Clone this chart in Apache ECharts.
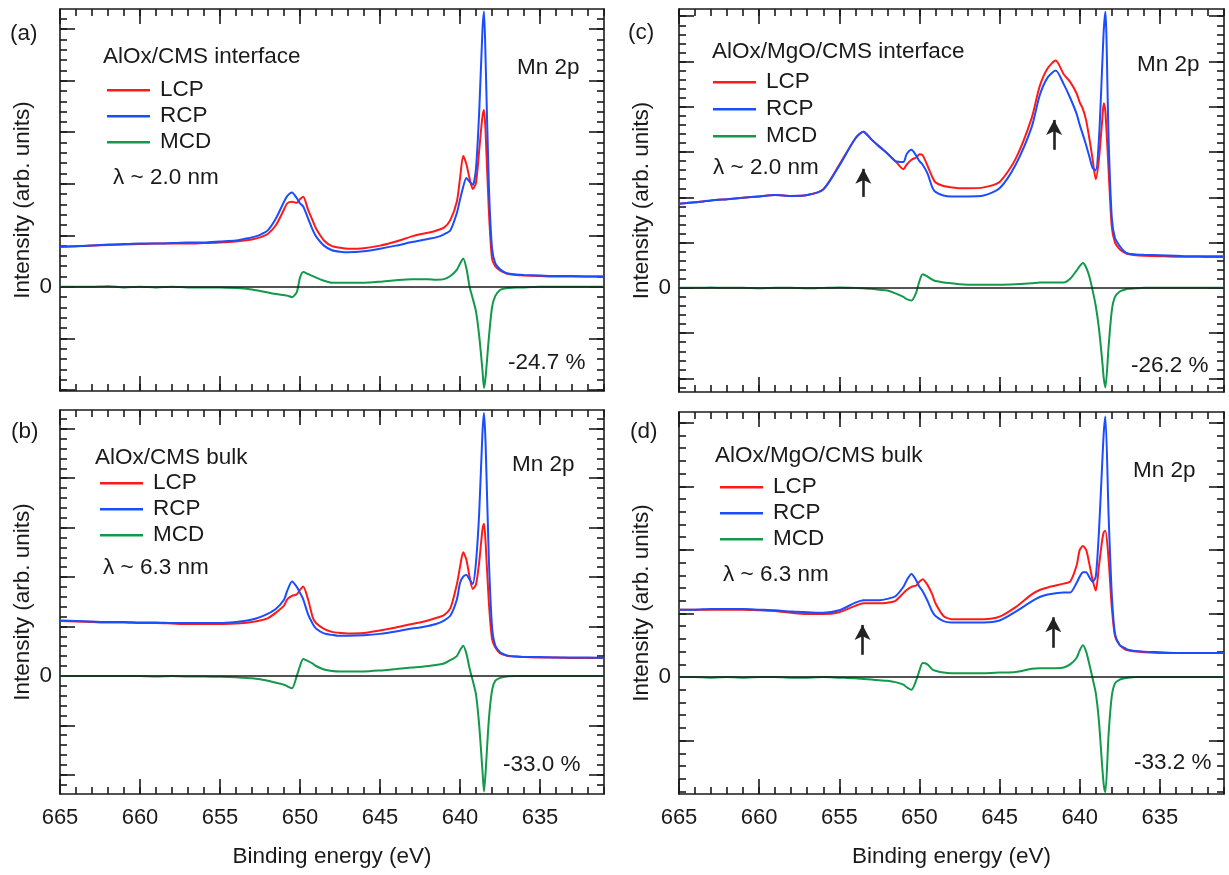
<!DOCTYPE html>
<html>
<head>
<meta charset="utf-8">
<script src="https://cdn.jsdelivr.net/npm/echarts@6/dist/echarts.min.js"></script>
<style>
  html, body { margin: 0; padding: 0; background: #ffffff; }
  #chart { width: 1229px; height: 875px; }
</style>
</head>
<body>
<div id="chart"></div>
<script>
// Binding energy grid (eV), shared by all four spectra
const energy = [665,664,663,662,661,660,659,658,657,656,655,654,
  653.5,653,652.5,652,651.5,651,650.8,650.5,650.2,650,
  649.8,649.5,649.2,649,648.5,648,647.5,647,646,645,644,643,
  642.5,642,641.5,641,640.6,640.2,640,
  639.8,639.6,639.4,639.2,639,638.8,638.6,638.5,638.4,638.2,638,
  637.8,637.5,637.2,637,636.5,636,635,634,633,632,631];

// (a) AlOx/CMS interface
const lcpA = [0.78,0.79,0.80,0.81,0.82,0.83,0.84,0.84,0.84,0.85,0.86,0.88,
  0.90,0.92,0.96,1.03,1.20,1.50,1.62,1.65,1.63,1.70,
  1.75,1.50,1.28,1.13,0.90,0.79,0.76,0.74,0.75,0.80,0.88,0.98,
  1.02,1.05,1.09,1.15,1.30,1.65,2.10,
  2.54,2.38,2.10,1.90,2.02,2.65,3.30,3.43,3.00,1.50,0.55,
  0.40,0.32,0.27,0.25,0.23,0.22,0.21,0.20,0.20,0.20,0.20];
const rcpA = [0.78,0.79,0.80,0.82,0.83,0.84,0.84,0.85,0.86,0.86,0.88,0.90,
  0.93,0.96,1.01,1.10,1.33,1.65,1.76,1.83,1.72,1.62,
  1.56,1.33,1.10,0.98,0.80,0.71,0.68,0.67,0.69,0.74,0.80,0.87,
  0.90,0.93,0.96,1.02,1.10,1.43,1.69,
  1.94,2.11,2.04,1.98,2.30,3.40,4.95,5.34,4.40,2.00,0.75,
  0.46,0.34,0.28,0.26,0.24,0.23,0.22,0.21,0.21,0.20,0.20];
const mcdA = [0,0,0,0.01,-0.01,0,-0.01,0,-0.01,-0.01,-0.01,-0.02,
  -0.03,-0.05,-0.08,-0.11,-0.14,-0.16,-0.17,-0.20,-0.10,0.18,
  0.29,0.25,0.21,0.18,0.12,0.08,0.08,0.08,0.08,0.10,0.13,0.15,
  0.15,0.15,0.14,0.15,0.21,0.33,0.45,
  0.55,0.36,0.00,-0.23,-0.48,-0.95,-1.60,-1.96,-1.75,-1.00,-0.40,
  -0.18,-0.06,-0.03,-0.02,-0.01,-0.01,0,0,0,0,0];

// (b) AlOx/CMS bulk
const lcpB = [1.11,1.10,1.09,1.08,1.08,1.07,1.07,1.06,1.05,1.05,1.05,1.06,
  1.07,1.09,1.12,1.17,1.28,1.42,1.55,1.62,1.65,1.74,
  1.81,1.55,1.18,1.07,0.95,0.89,0.87,0.86,0.87,0.92,0.98,1.05,
  1.08,1.12,1.17,1.23,1.37,1.85,2.20,
  2.50,2.35,2.00,1.76,1.85,2.30,2.95,3.08,2.70,1.50,0.75,
  0.58,0.46,0.42,0.40,0.39,0.38,0.37,0.37,0.36,0.36,0.36];
const rcpB = [1.12,1.11,1.10,1.09,1.09,1.08,1.08,1.07,1.07,1.07,1.07,1.09,
  1.11,1.14,1.19,1.26,1.36,1.54,1.72,1.91,1.80,1.68,
  1.55,1.25,1.05,0.96,0.86,0.83,0.81,0.81,0.82,0.85,0.90,0.96,
  0.98,1.01,1.05,1.12,1.22,1.54,1.88,
  2.01,2.04,1.95,1.86,2.30,3.30,4.90,5.32,4.70,2.40,1.00,
  0.62,0.48,0.43,0.41,0.39,0.38,0.38,0.37,0.37,0.37,0.36];
const mcdB = [0,0,0,0,0,0,-0.01,0,-0.01,-0.01,-0.02,-0.03,
  -0.04,-0.05,-0.07,-0.10,-0.14,-0.18,-0.21,-0.25,0.00,0.20,
  0.34,0.30,0.25,0.20,0.13,0.10,0.09,0.09,0.09,0.11,0.14,0.17,
  0.18,0.20,0.22,0.25,0.32,0.40,0.52,
  0.61,0.45,0.15,-0.10,-0.38,-1.00,-1.90,-2.34,-1.95,-0.90,-0.30,
  -0.10,-0.04,-0.02,-0.01,0,0,0,0,0,0,0];

// (c) AlOx/MgO/CMS interface
const lcpC = [1.86,1.89,1.93,1.96,1.99,2.02,2.05,2.03,2.05,2.18,2.72,3.30,
  3.45,3.28,3.12,2.97,2.80,2.62,2.72,2.83,2.88,2.95,
  2.93,2.70,2.45,2.33,2.25,2.22,2.20,2.20,2.22,2.34,2.85,3.75,
  4.45,4.85,5.02,4.72,4.55,4.30,4.10,
  3.95,3.70,3.30,2.85,2.40,2.85,3.70,4.08,3.90,2.60,1.35,
  1.00,0.85,0.78,0.75,0.72,0.71,0.70,0.69,0.69,0.68,0.68];
const rcpC = [1.86,1.89,1.93,1.96,1.99,2.02,2.05,2.03,2.05,2.17,2.70,3.30,
  3.45,3.28,3.12,2.97,2.80,2.78,2.95,3.05,2.92,2.80,
  2.72,2.53,2.22,2.12,2.04,2.02,2.02,2.02,2.04,2.20,2.72,3.55,
  4.25,4.65,4.80,4.50,4.20,3.85,3.60,
  3.38,3.15,2.90,2.65,2.60,3.30,4.89,5.70,6.10,3.30,1.55,
  1.10,0.92,0.80,0.76,0.74,0.73,0.72,0.71,0.70,0.70,0.70];
const mcdC = [0,0,0.01,0,0,-0.01,0,0,-0.01,0,0.01,0,
  -0.01,-0.02,-0.04,-0.06,-0.12,-0.20,-0.25,-0.28,-0.10,0.15,
  0.30,0.25,0.18,0.15,0.12,0.10,0.08,0.07,0.07,0.07,0.08,0.10,
  0.12,0.12,0.12,0.12,0.20,0.38,0.48,
  0.55,0.45,0.25,-0.05,-0.40,-0.90,-1.60,-2.00,-2.20,-1.30,-0.50,
  -0.20,-0.08,-0.04,-0.02,-0.01,0,0,0,0,0,0];

// (d) AlOx/MgO/CMS bulk
const lcpD = [1.06,1.06,1.06,1.06,1.06,1.05,1.04,1.01,0.99,0.99,1.02,1.12,
  1.16,1.16,1.16,1.17,1.20,1.32,1.37,1.42,1.44,1.50,
  1.54,1.45,1.30,1.16,0.96,0.91,0.91,0.91,0.91,0.95,1.10,1.30,
  1.37,1.41,1.44,1.47,1.50,1.75,2.00,
  2.06,2.00,1.78,1.53,1.36,1.75,2.15,2.28,2.30,1.85,1.10,
  0.65,0.50,0.44,0.42,0.40,0.39,0.38,0.38,0.38,0.38,0.38];
const rcpD = [1.06,1.06,1.07,1.07,1.07,1.06,1.05,1.03,1.02,1.01,1.05,1.17,
  1.21,1.21,1.21,1.23,1.27,1.42,1.52,1.62,1.52,1.42,
  1.35,1.20,1.03,0.96,0.88,0.86,0.86,0.86,0.86,0.89,1.03,1.19,
  1.26,1.30,1.32,1.33,1.33,1.48,1.58,
  1.65,1.65,1.57,1.50,1.58,2.30,3.35,3.85,4.10,2.55,1.30,
  0.68,0.50,0.46,0.43,0.41,0.40,0.39,0.38,0.38,0.38,0.38];
const mcdD = [0,0,-0.01,0,-0.01,0,0,-0.01,-0.01,0,-0.01,-0.02,
  -0.03,-0.04,-0.05,-0.06,-0.08,-0.12,-0.16,-0.20,-0.05,0.10,
  0.22,0.20,0.12,0.10,0.07,0.06,0.06,0.06,0.06,0.07,0.08,0.13,
  0.14,0.14,0.14,0.15,0.20,0.30,0.42,
  0.50,0.40,0.20,-0.02,-0.25,-0.70,-1.40,-1.70,-1.81,-0.90,-0.30,
  -0.10,-0.04,-0.02,-0.01,0,0,0,0,0,0,0];

// Tick labels on the energy axis
const energyTicks = [635,640,645,650,655,660,665];

// Arrows marking the satellite features, [energy, from, to]
const arrowsC = [[653.5, 2.01, 2.63], [641.6, 3.05, 3.71]];
const arrowsD = [[653.55, 0.35, 0.82], [641.65, 0.46, 0.94]];

const ink = '#1a1a1a';
const font = '"Liberation Sans", Arial, sans-serif';
const textSize = 22.5;
const colors = { LCP: '#ff1a1a', RCP: '#1a4dff', MCD: '#13994a' };
const E_MIN = 631, E_MAX = 665;

const panels = [
  { grid: { left: 60, top: 9, width: 544, height: 382 }, yMin: -2.02, yMax: 5.39,
    lcp: lcpA, rcp: rcpA, mcd: mcdA, bottom: false, arrows: [],
    tag: '(a)', tagPos: [10, 34], sample: 'AlOx/CMS interface', samplePos: [103, 57],
    legendPos: [107, 90], legendStep: 25.5, depth: 'λ ~ 2.0 nm', depthPos: [113, 178],
    edge: 'Mn 2p', edgePos: [517, 68], ratio: '-24.7 %', ratioPos: [508, 363] },
  { grid: { left: 60, top: 410, width: 544, height: 384 }, yMin: -2.39, yMax: 5.38,
    lcp: lcpB, rcp: rcpB, mcd: mcdB, bottom: true, arrows: [],
    tag: '(b)', tagPos: [11, 432], sample: 'AlOx/CMS bulk', samplePos: [95, 458],
    legendPos: [100, 483], legendStep: 25.5, depth: 'λ ~ 6.3 nm', depthPos: [103, 568],
    edge: 'Mn 2p', edgePos: [512, 465], ratio: '-33.0 %', ratioPos: [503, 765] },
  { grid: { left: 679, top: 9, width: 545, height: 383 }, yMin: -2.30, yMax: 6.16,
    lcp: lcpC, rcp: rcpC, mcd: mcdC, bottom: false, arrows: arrowsC,
    tag: '(c)', tagPos: [628, 33], sample: 'AlOx/MgO/CMS interface', samplePos: [712, 52],
    legendPos: [713, 82], legendStep: 26.5, depth: 'λ ~ 2.0 nm', depthPos: [713, 168],
    edge: 'Mn 2p', edgePos: [1137, 65], ratio: '-26.2 %', ratioPos: [1131, 366] },
  { grid: { left: 679, top: 412, width: 545, height: 382 }, yMin: -1.84, yMax: 4.17,
    lcp: lcpD, rcp: rcpD, mcd: mcdD, bottom: true, arrows: arrowsD,
    tag: '(d)', tagPos: [630, 432], sample: 'AlOx/MgO/CMS bulk', samplePos: [715, 456],
    legendPos: [720, 487], legendStep: 25.5, depth: 'λ ~ 6.3 nm', depthPos: [723, 575],
    edge: 'Mn 2p', edgePos: [1133, 471], ratio: '-33.2 %', ratioPos: [1134, 763] }
];

const frame = { color: ink, width: 1.6 };
const minorEnergy = [];
for (let e = E_MIN; e <= E_MAX; e++) minorEnergy.push(e);

function stepValues(min, max, step) {
  const out = [];
  const n0 = Math.ceil(min / step - 1e-9), n1 = Math.floor(max / step + 1e-9);
  for (let n = n0; n <= n1; n++) out.push(+(n * step).toFixed(4));
  return out;
}

function xAxesFor(gi, p) {
  const base = { type: 'value', gridIndex: gi, min: E_MIN, max: E_MAX, inverse: true,
    splitLine: { show: false } };
  const major = { show: true, inside: true, length: 15, lineStyle: frame, customValues: energyTicks };
  const minor = { show: true, inside: true, length: 7, lineStyle: frame, customValues: minorEnergy };
  return [
    Object.assign({}, base, {
      position: 'bottom', axisLine: { show: true, onZero: false, lineStyle: frame },
      axisTick: major,
      axisLabel: { show: p.bottom, customValues: energyTicks, margin: 13, fontSize: 22,
        color: ink, fontFamily: font },
      name: p.bottom ? 'Binding energy (eV)' : '', nameLocation: 'middle', nameGap: 51,
      nameTextStyle: { fontSize: textSize, color: ink, fontFamily: font }
    }),
    Object.assign({}, base, { position: 'bottom', axisLine: { show: false, onZero: false },
      axisTick: minor, axisLabel: { show: false } }),
    Object.assign({}, base, { position: 'top', axisLine: { show: true, onZero: false, lineStyle: frame },
      axisTick: major, axisLabel: { show: false } }),
    Object.assign({}, base, { position: 'top', axisLine: { show: false, onZero: false },
      axisTick: minor, axisLabel: { show: false } })
  ];
}

function yAxesFor(gi, p) {
  const base = { type: 'value', gridIndex: gi, min: p.yMin, max: p.yMax, splitLine: { show: false } };
  const majorVals = stepValues(p.yMin, p.yMax, 1);
  const minorVals = stepValues(p.yMin, p.yMax, 0.2);
  const major = { show: true, inside: true, length: 15, lineStyle: frame, customValues: majorVals };
  const minor = { show: true, inside: true, length: 7, lineStyle: frame, customValues: minorVals };
  return [
    Object.assign({}, base, {
      position: 'left', axisLine: { show: true, onZero: false, lineStyle: frame },
      axisTick: major,
      axisLabel: { show: true, customValues: [0], formatter: '{value}', margin: 8, fontSize: textSize,
        color: ink, fontFamily: font },
      name: 'Intensity (arb. units)', nameLocation: 'middle', nameRotate: 90, nameGap: 26,
      nameTextStyle: { fontSize: textSize, color: ink, fontFamily: font }
    }),
    Object.assign({}, base, { position: 'left', axisLine: { show: false, onZero: false },
      axisTick: minor, axisLabel: { show: false } }),
    Object.assign({}, base, { position: 'right', axisLine: { show: true, onZero: false, lineStyle: frame },
      axisTick: major, axisLabel: { show: false } }),
    Object.assign({}, base, { position: 'right', axisLine: { show: false, onZero: false },
      axisTick: minor, axisLabel: { show: false } })
  ];
}

function pairs(values) {
  return energy.map((e, i) => [e, values[i]]);
}

const grids = [], xAxes = [], yAxes = [], series = [], titles = [], legends = [];

panels.forEach((p, gi) => {
  grids.push(Object.assign({ containLabel: false }, p.grid));
  xAxes.push(...xAxesFor(gi, p));
  yAxes.push(...yAxesFor(gi, p));

  const axisIdx = { xAxisIndex: 4 * gi, yAxisIndex: 4 * gi };
  const lineOf = (name, values, extra) => Object.assign({
    type: 'line', name: name, data: pairs(values), showSymbol: false, symbol: 'none',
    smooth: 0.25,
    lineStyle: { color: colors[name], width: 2 }, itemStyle: { color: colors[name] },
    animation: false, silent: true
  }, axisIdx, extra || {});

  const lcpExtra = p.arrows.length ? {
    markLine: {
      silent: true, animation: false, symbol: ['none', 'arrow'], symbolSize: [12, 15],
      label: { show: false }, lineStyle: { color: '#222', width: 2.6, type: 'solid' },
      data: p.arrows.map(a => [{ coord: [a[0], a[1]] }, { coord: [a[0], a[2]] }])
    }
  } : {};

  series.push(lineOf('MCD', p.mcd, {
    z: 2,
    markLine: {
      silent: true, animation: false, symbol: ['none', 'none'], label: { show: false },
      lineStyle: { color: ink, width: 1.5, type: 'solid' }, data: [{ yAxis: 0 }]
    }
  }));
  series.push(lineOf('LCP', p.lcp, Object.assign({ z: 3 }, lcpExtra)));
  series.push(lineOf('RCP', p.rcp, { z: 4 }));

  const txt = (text, pos) => ({
    text: text, left: pos[0], top: pos[1] - textSize / 2, padding: 0,
    textStyle: { fontSize: textSize, lineHeight: textSize, fontWeight: 'normal', color: ink, fontFamily: font }
  });
  titles.push(txt(p.tag, p.tagPos), txt(p.sample, p.samplePos), txt(p.depth, p.depthPos),
    txt(p.edge, p.edgePos), txt(p.ratio, p.ratioPos));

  legends.push({
    left: p.legendPos[0], top: p.legendPos[1] - textSize / 2, orient: 'vertical', padding: 0,
    itemGap: p.legendStep - textSize, itemWidth: 43, itemHeight: 2.5, icon: 'rect',
    selectedMode: false, data: ['LCP', 'RCP', 'MCD'],
    textStyle: { fontSize: textSize, lineHeight: textSize, color: ink, fontFamily: font, padding: [0, 0, 0, 5] }
  });
});

const chart = echarts.init(document.getElementById('chart'), null, { renderer: 'canvas' });
chart.setOption({
  backgroundColor: '#ffffff',
  animation: false,
  title: titles,
  legend: legends,
  grid: grids,
  xAxis: xAxes,
  yAxis: yAxes,
  series: series
});
</script>
</body>
</html>
